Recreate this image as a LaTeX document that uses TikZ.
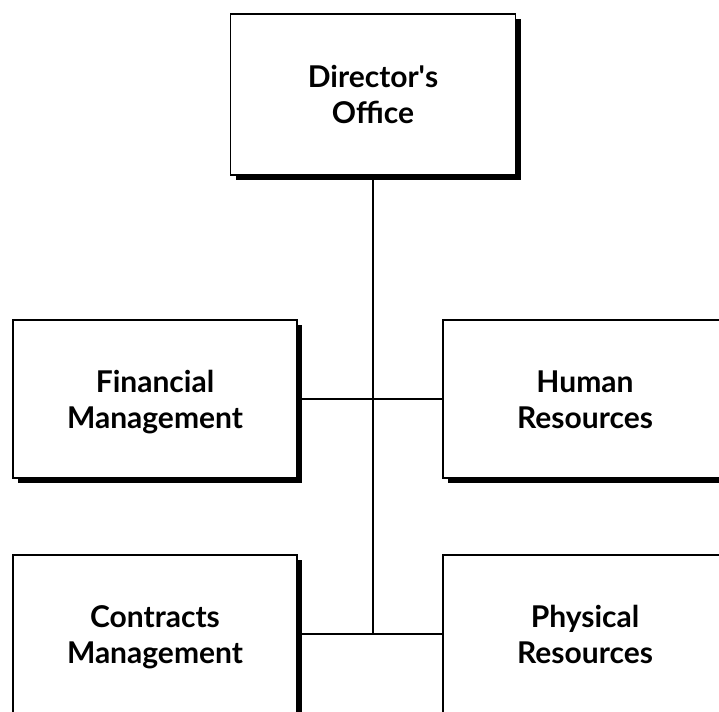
\documentclass[tikz,border=0pt]{standalone}
\usepackage{fontspec}
\setmainfont{Lato}
\usepackage{tikz}
\usetikzlibrary{positioning,shadows}
\tikzset{
  unitbox/.style={draw=black, fill=white, line width=1.4pt, align=center,
    minimum width=284pt, minimum height=158pt, inner sep=0pt,
    font=\fontsize{30}{36}\selectfont\bfseries,
    drop shadow={shadow xshift=5pt, shadow yshift=-5pt, fill=black, opacity=1}},
  link/.style={draw=black, line width=1.6pt}
}
\newcommand{\unitname}[2]{\rule{0pt}{29pt}#1\\#2\rule[-7pt]{0pt}{7pt}}

\begin{document}
\begin{tikzpicture}[x=1pt, y=1pt]
  \useasboundingbox (0,0) rectangle (719,-711);
  \clip (0,0) rectangle (719,-711);

  % Top: director
  \node[unitbox, minimum width=285pt, minimum height=161pt] (director) at (373,-94.5) {\unitname{Director\textquotesingle s}{Office}};

  % Middle row
  \node[unitbox] (finance) at (155,-399) {\unitname{Financial}{Management}};
  \node[unitbox] (human) at (585,-399) {\unitname{Human}{Resources}};

  % Bottom row (runs off the page)
  \node[unitbox] (contracts) at (155,-634) {\unitname{Contracts}{Management}};
  \node[unitbox] (physical) at (585,-634) {\unitname{Physical}{Resources}};

  % Connectors
  \coordinate (lowjoin) at (director.south |- contracts.east);
  \draw[link] (director.south) -- (lowjoin);
  \draw[link] (finance.east) -- (human.west);
  \draw[link] (contracts.east) -- (physical.west);
\end{tikzpicture}
\end{document}
